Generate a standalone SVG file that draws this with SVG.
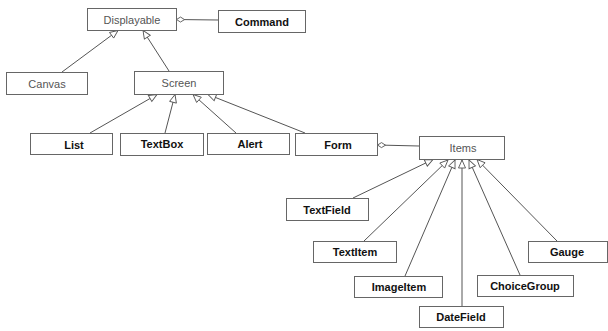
<svg xmlns="http://www.w3.org/2000/svg" width="608" height="331" viewBox="0 0 608 331">
<defs>
<marker id="tri" markerUnits="userSpaceOnUse" markerWidth="10" markerHeight="10" refX="8" refY="3.5" orient="auto" overflow="visible">
<path d="M0,0 L8,3.5 L0,7 z" fill="#fff" stroke="#555" stroke-width="0.9"/>
</marker>
<marker id="dia" markerUnits="userSpaceOnUse" markerWidth="10" markerHeight="10" refX="0" refY="2.5" orient="auto" overflow="visible">
<path d="M0,2.5 L4,0 L8,2.5 L4,5 z" fill="#fff" stroke="#555" stroke-width="0.9"/>
</marker>
<style>
.box{fill:#fff;stroke:#666;stroke-width:1}
.sh{fill:none;stroke:#999;stroke-width:1}
.n{font-family:"Liberation Sans",Arial,sans-serif;font-size:11px;fill:#555;text-anchor:middle}
.b{font-family:"Liberation Sans",Arial,sans-serif;font-size:11px;font-weight:bold;fill:#111;text-anchor:middle}
.c{stroke:#555;stroke-width:1;fill:none}
.g{marker-end:url(#tri)}
.a{marker-start:url(#dia)}
</style>
</defs>
<g id="connectors">
<line class="c g" x1="62" y1="72" x2="118" y2="30.5"/>
<line class="c g" x1="169" y1="71" x2="143" y2="30.5"/>
<line class="c a" x1="176.5" y1="19.5" x2="218" y2="20"/>
<line class="c g" x1="90" y1="133" x2="157" y2="94.5"/>
<line class="c g" x1="165" y1="133" x2="175" y2="94.5"/>
<line class="c g" x1="236" y1="133" x2="193" y2="94.5"/>
<line class="c g" x1="305" y1="133" x2="208" y2="94.5"/>
<line class="c a" x1="377.5" y1="145" x2="419" y2="146"/>
<line class="c g" x1="353" y1="198" x2="433" y2="159.5"/>
<line class="c g" x1="364" y1="241" x2="448" y2="160"/>
<line class="c g" x1="405" y1="276" x2="455" y2="160"/>
<line class="c g" x1="462" y1="306" x2="462" y2="160"/>
<line class="c g" x1="520" y1="275" x2="469" y2="160"/>
<line class="c g" x1="557" y1="241" x2="477" y2="159.5"/>
</g>
<g id="Displayable"><rect class="box" x="87.5" y="8.5" width="89" height="22"/><text class="n" x="132" y="23.5">Displayable</text></g>
<g id="Command"><rect class="box" x="218.5" y="10.5" width="87" height="22"/><text class="b" x="262" y="25.5">Command</text></g>
<g id="Canvas"><rect class="box" x="6.5" y="72.5" width="81" height="22"/><text class="n" x="47" y="87.5">Canvas</text></g>
<g id="Screen"><rect class="box" x="134.5" y="71.5" width="89" height="23"/><text class="n" x="179" y="87">Screen</text></g>
<g id="List"><rect class="box" x="30.5" y="133.5" width="82" height="21"/><text class="b" x="74" y="149">List</text></g>
<g id="TextBox"><rect class="box" x="120.5" y="133.5" width="83" height="22"/><text class="b" x="162" y="148">TextBox</text></g>
<g id="Alert"><rect class="box" x="207.5" y="133.5" width="82" height="21"/><text class="b" x="250" y="148">Alert</text></g>
<g id="Form"><rect class="box" x="295.5" y="133.5" width="82" height="22"/><text class="b" x="338" y="149">Form</text></g>
<g id="Items"><rect class="box" x="419.5" y="136.5" width="85" height="23"/><text class="n" x="463" y="152">Items</text></g>
<g id="TextField"><rect class="box" x="286.5" y="198.5" width="82" height="22"/><text class="b" x="327" y="213.5">TextField</text></g>
<g id="TextItem"><rect class="box" x="313.5" y="241.5" width="83" height="21"/><text class="b" x="355" y="256">TextItem</text></g>
<g id="ImageItem"><rect class="box" x="354.5" y="276.5" width="88" height="21"/><text class="b" x="399" y="291">ImageItem</text></g>
<g id="DateField"><rect class="box" x="419.5" y="306.5" width="84" height="21"/><text class="b" x="461" y="321">DateField</text></g>
<g id="ChoiceGroup"><rect class="box" x="477.5" y="275.5" width="96" height="21"/><text class="b" x="525" y="290">ChoiceGroup</text></g>
<g id="Gauge"><rect class="box" x="528.5" y="241.5" width="79" height="21"/><text class="b" x="567" y="256">Gauge</text></g>
</svg>
